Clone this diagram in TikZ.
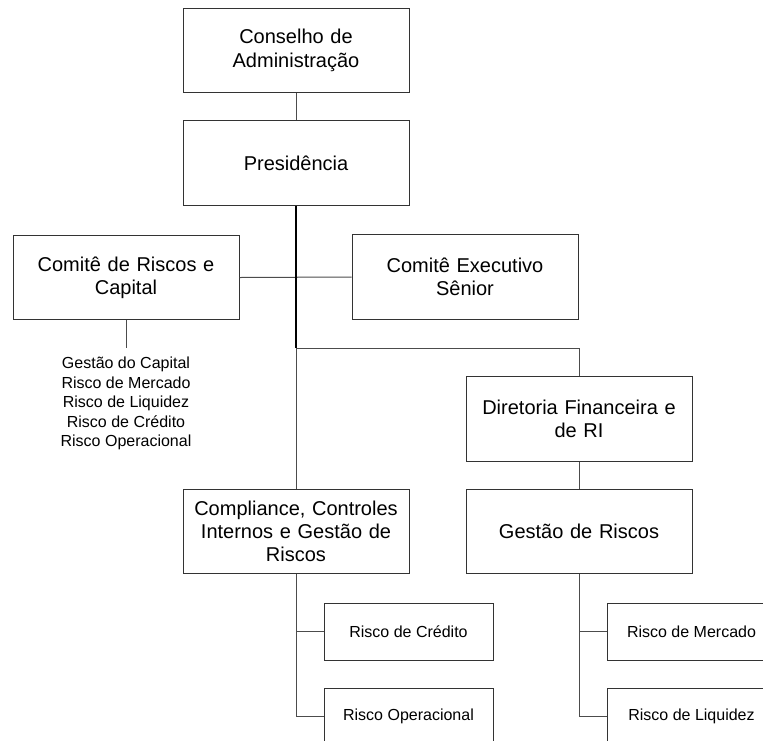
\documentclass[tikz,border=0pt]{standalone}
\usepackage{fontspec}
\setmainfont{Liberation Sans}
\begin{document}
\begin{tikzpicture}[x=0.75pt,y=-0.75pt,
  bigbox/.style={draw=black!80, line width=0.75pt, minimum width=169.5pt, minimum height=63.5pt,
    align=center, inner sep=2pt, font=\fontsize{15}{17.5}\selectfont, text width=160pt},
  smallbox/.style={draw=black!80, line width=0.75pt, minimum width=126.75pt, minimum height=42.75pt,
    align=center, inner sep=2pt, font=\fontsize{12}{14.5}\selectfont},
  conn/.style={draw=black!70, line width=0.75pt},
  mainconn/.style={draw=black, line width=1.5pt},
  listtext/.style={align=center, inner sep=0pt, font=\fontsize{12}{14.6}\selectfont}
]
\useasboundingbox (0,0) rectangle (763,740);
\node[bigbox] (cons) at (296,50.5) {Conselho de\\Administração};
\node[bigbox] (pres) at (296,163) {Presidência};
\node[bigbox] (crc) at (126,277.5) {Comitê de Riscos e\\Capital};
\node[bigbox] (ces) at (465,277) {Comitê Executivo\\Sênior};
\node[bigbox] (dir) at (579,419) {Diretoria Financeira e\\de RI};
\node[bigbox] (comp) at (296,531.5) {Compliance, Controles\\Internos e Gestão de\\Riscos};
\node[bigbox] (ges) at (579,531.5) {Gestão de Riscos};
\node[smallbox] (rc) at (408.5,631.5) {Risco de Crédito};
\node[smallbox] (ro) at (408.5,716.5) {Risco Operacional};
\node[smallbox] (rm) at (691.5,631.5) {Risco de Mercado};
\node[smallbox] (rl) at (691.5,716.5) {Risco de Liquidez};
\node[listtext, anchor=north] (lst) at (126,357) {Gestão do Capital\\Risco de Mercado\\Risco de Liquidez\\Risco de Crédito\\Risco Operacional};
\coordinate (j1) at (296,348);
\coordinate (stub) at (126,348);
\draw[conn] (cons.south) -- (pres.north);
\draw[conn] (crc.east) -- (ces.west);
\draw[mainconn] (pres.south) -- (pres.south |- j1);
\draw[conn] (pres.south |- j1) -- (comp.north);
\draw[conn] (pres.south |- j1) -| (dir.north);
\draw[conn] (dir.south) -- (ges.north);
\draw[conn] (crc.south) -- (stub);
\draw[conn] (comp.south) |- (rc.west);
\draw[conn] (comp.south) |- (ro.west);
\draw[conn] (ges.south) |- (rm.west);
\draw[conn] (ges.south) |- (rl.west);
\end{tikzpicture}
\end{document}
